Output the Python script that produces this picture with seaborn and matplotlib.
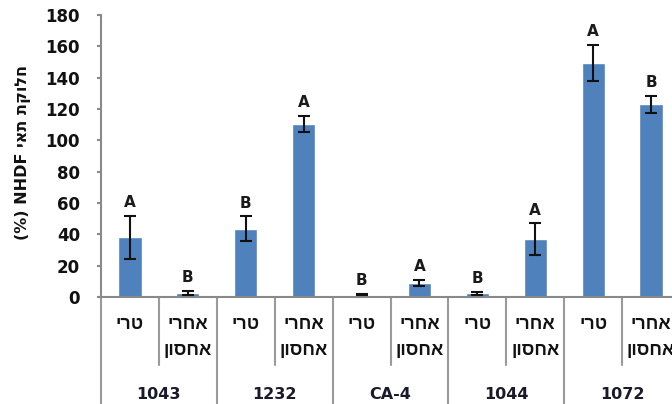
import matplotlib
matplotlib.use('Agg')
import matplotlib.pyplot as plt
import pandas as pd
import seaborn as sns

# Data
groups = ['1043', '1232', 'CA-4', '1044', '1072']
conditions = ['טרי', 'אחרי אחסון']
values = [38, 2.5, 43.5, 110.5, 1.5, 9, 2.5, 37, 149.5, 123]
errors = [14, 1.5, 8, 5, 0.5, 2, 1, 10, 11.5, 5.5]
letters = ['A', 'B', 'B', 'A', 'B', 'A', 'B', 'A', 'A', 'B']
yticks = list(range(0, 181, 20))
ylabel_he = 'חלוקת תאי'
ylabel_en = 'NHDF (%)'


def vis(s):
    # matplotlib has no bidi support: reverse Hebrew runs so they read right-to-left
    return s[::-1]


df = pd.DataFrame({
    'group': [g for g in groups for _ in conditions],
    'cond': conditions * len(groups),
    'value': values,
    'err': errors,
    'letter': letters,
})
df['key'] = df['group'] + '|' + df['cond']

sns.set_style('white')
plt.rcParams['font.family'] = ['DejaVu Sans']
heb_font = ['Liberation Sans', 'DejaVu Sans']

fig = plt.figure(figsize=(6.72, 4.04), dpi=100)
ax = fig.add_axes([101 / 672, 107 / 404, 579 / 672, 282 / 404])

sns.barplot(data=df, x='key', y='value', order=list(df['key']), color='#4F81BD',
            saturation=1, width=0.4, errorbar=None, ax=ax)
pos = list(range(len(df)))
ax.errorbar(pos, df['value'], yerr=df['err'], fmt='none', ecolor='#111111',
            elinewidth=1.5, capsize=4, capthick=1.5, zorder=3)

for i, row in df.iterrows():
    ax.annotate(row['letter'], (i, row['value'] + row['err']), xytext=(0, 4),
                textcoords='offset points', ha='center', va='bottom',
                fontsize=11, fontweight='bold', color='#1a1a1a')

ax.set_ylim(0, 180)
ax.set_xlim(-0.5, len(df) - 0.5)
ax.set_yticks(yticks)
ax.set_xticks([])
ax.set_xlabel('')
ax.set_ylabel('')
ax.tick_params(axis='y', left=True, length=3, width=1.5, color='#898989',
               labelsize=12, pad=12, labelcolor='#111111')
for lbl in ax.get_yticklabels():
    lbl.set_fontweight('bold')

for s in ['top', 'right']:
    ax.spines[s].set_visible(False)
for s in ['left', 'bottom']:
    ax.spines[s].set_color('#898989')
    ax.spines[s].set_linewidth(1.5)

# two-level category axis below the plot
trans = ax.get_xaxis_transform()
for i in range(len(df) + 1):
    y_end = -0.38 if i % 2 == 0 else -0.241
    ax.plot([i - 0.5, i - 0.5], [0, y_end], transform=trans, clip_on=False,
            color='#9a9a9a', lw=1.5)

for i, row in df.iterrows():
    lines = row['cond'].split(' ')
    for j, ln in enumerate(lines):
        ax.text(i, -0.099 - j * 0.092, vis(ln), transform=trans, ha='center',
                va='center', fontsize=13, fontweight='bold', color='#111111',
                family=heb_font)

for k, g in enumerate(groups):
    ax.text(2 * k + 0.5, -0.3475, g, transform=trans, ha='center', va='center',
            fontsize=11.5, fontweight='bold', color='#1a1a2a')

fig.text(23 / 672, 1 - 152 / 404, '(%) NHDF ' + vis(ylabel_he), rotation=90,
         ha='center', va='center', fontsize=11.5, fontweight='bold', color='#111111',
         family=['DejaVu Sans'])

fig.savefig('out.png', dpi=100)
